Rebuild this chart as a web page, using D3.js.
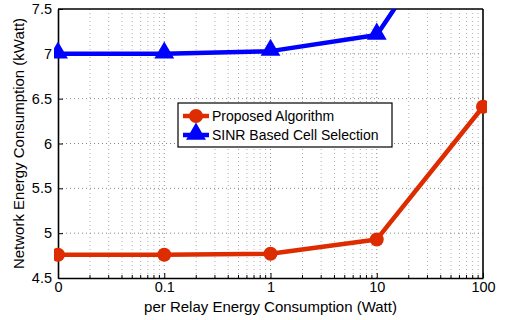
<!DOCTYPE html>
<html>
<head>
<meta charset="utf-8">
<script src="https://cdn.jsdelivr.net/npm/d3@7"></script>
<style>
  body { margin: 0; background: #fff; }
  svg { display: block; font-family: "Liberation Sans", Arial, Helvetica, sans-serif; }
</style>
</head>
<body>
<svg id="chart" width="509" height="320"></svg>
<script>
// Relay power levels (Watt); the first level is plotted at 0.01 and labelled "0"
const relayPower = [0.01, 0.1, 1, 10, 100];
const xTickLabels = ["0", "0.1", "1", "10", "100"];
const proposed = [4.76, 4.76, 4.77, 4.93, 6.41];
const sinrBased = [7.0, 7.0, 7.03, 7.21, 8.97];
const yTicks = [4.5, 5, 5.5, 6, 6.5, 7, 7.5];
const seriesNames = ["Proposed Algorithm", "SINR Based Cell Selection"];

const svg = d3.select("#chart");
const m = { left: 58, right: 26, top: 9, bottom: 42 };
const W = 509, H = 320;
const iw = W - m.left - m.right, ih = H - m.top - m.bottom;

const x = d3.scaleLog().domain([0.01, 100]).range([0, iw]);
const y = d3.scaleLinear().domain([4.5, 7.5]).range([ih, 0]);

const g = svg.append("g").attr("transform", `translate(${m.left},${m.top})`);

// Minor log grid lines (2..9 within each decade)
const minor = [];
for (let d = 0.01; d < 100; d *= 10) for (let k = 2; k <= 9; k++) minor.push(d * k);
g.append("g").selectAll("line").data(minor).join("line")
  .attr("x1", d => x(d)).attr("x2", d => x(d)).attr("y1", 0).attr("y2", ih)
  .attr("stroke", "#b0b0b0").attr("stroke-width", 1).attr("stroke-dasharray", "1,3");

// Major grid lines
g.append("g").selectAll("line").data(relayPower.slice(1, -1)).join("line")
  .attr("x1", d => x(d)).attr("x2", d => x(d)).attr("y1", 0).attr("y2", ih)
  .attr("stroke", "#888").attr("stroke-width", 1).attr("stroke-dasharray", "1,3");
g.append("g").selectAll("line").data(yTicks.slice(1, -1)).join("line")
  .attr("x1", 0).attr("x2", iw).attr("y1", d => y(d)).attr("y2", d => y(d))
  .attr("stroke", "#888").attr("stroke-width", 1).attr("stroke-dasharray", "1,3");

// Axes with inward ticks
const xAxis = d3.axisBottom(x).tickValues(relayPower)
  .tickFormat((d, i) => xTickLabels[i]).tickSizeInner(-5).tickSizeOuter(0).tickPadding(4);
const yAxis = d3.axisLeft(y).tickValues(yTicks)
  .tickFormat(d3.format("")).tickSizeInner(-5).tickSizeOuter(0).tickPadding(6);

const gx = g.append("g").attr("transform", `translate(0,${ih})`).call(xAxis);
const gy = g.append("g").call(yAxis);
[gx, gy].forEach(a => {
  a.select(".domain").attr("stroke", "#000").attr("stroke-width", 1.6);
  a.selectAll(".tick line").attr("stroke", "#000");
  a.selectAll(".tick text").attr("font-size", 14.5).attr("fill", "#000")
    .attr("font-family", "Liberation Sans, Arial, sans-serif");
});
// Minor ticks along the bottom edge
g.append("g").selectAll("line").data(minor).join("line")
  .attr("x1", d => x(d)).attr("x2", d => x(d)).attr("y1", ih).attr("y2", ih - 3)
  .attr("stroke", "#000");

// Top and right borders
g.append("line").attr("x1", 0).attr("x2", iw).attr("y1", 0).attr("y2", 0)
  .attr("stroke", "#000").attr("stroke-width", 1.6);
g.append("line").attr("x1", iw).attr("x2", iw).attr("y1", 0).attr("y2", ih)
  .attr("stroke", "#000").attr("stroke-width", 1.6);

// Clip data to plot area
svg.append("defs").append("clipPath").attr("id", "plotclip")
  .append("rect").attr("x", 0).attr("y", 0).attr("width", iw + 8).attr("height", ih + 8)
  .attr("transform", "translate(-4,0)");

const data = [
  { name: seriesNames[0], vals: proposed, color: "#dd2c00", marker: "circle" },
  { name: seriesNames[1], vals: sinrBased, color: "#0000ff", marker: "triangle" }
];

const line = d3.line().x((d, i) => x(relayPower[i])).y(d => y(d));
const triSym = d3.symbol().type(d3.symbolTriangle).size(170);

const plot = g.append("g").attr("clip-path", "url(#plotclip)");
data.forEach(s => {
  plot.append("path").datum(s.vals).attr("d", line)
    .attr("fill", "none").attr("stroke", s.color).attr("stroke-width", 4.5)
    .attr("stroke-linejoin", "round");
  const pts = plot.append("g").selectAll("g").data(s.vals).join("g")
    .attr("transform", (d, i) => `translate(${x(relayPower[i])},${y(d)})`);
  if (s.marker === "circle") {
    pts.append("circle").attr("r", 7).attr("fill", s.color);
  } else {
    pts.append("path").attr("d", triSym).attr("transform", "translate(0,-1)").attr("fill", s.color);
  }
});

// Legend
const lg = svg.append("g").attr("transform", "translate(178,103)");
lg.append("rect").attr("width", 214).attr("height", 44)
  .attr("fill", "#fff").attr("stroke", "#000").attr("stroke-width", 1.2);
data.forEach((s, i) => {
  const yy = 13 + i * 19;
  lg.append("line").attr("x1", 5).attr("x2", 31).attr("y1", yy).attr("y2", yy)
    .attr("stroke", s.color).attr("stroke-width", 4.5);
  if (s.marker === "circle") {
    lg.append("circle").attr("cx", 18).attr("cy", yy).attr("r", 7).attr("fill", s.color);
  } else {
    lg.append("path").attr("d", triSym).attr("transform", `translate(18,${yy - 1})`).attr("fill", s.color);
  }
  lg.append("text").attr("x", 34).attr("y", yy + 5).attr("font-size", 14)
    .attr("fill", "#000").text(s.name);
});

// Axis titles
svg.append("text").attr("x", m.left + iw / 2).attr("y", 312).attr("text-anchor", "middle")
  .attr("font-size", 15).attr("fill", "#000").text("per Relay Energy Consumption (Watt)");
svg.append("text").attr("transform", `translate(24,${m.top + ih / 2}) rotate(-90)`)
  .attr("text-anchor", "middle").attr("font-size", 15).attr("fill", "#000")
  .text("Network Energy Consumption (kWatt)");
</script>
</body>
</html>
